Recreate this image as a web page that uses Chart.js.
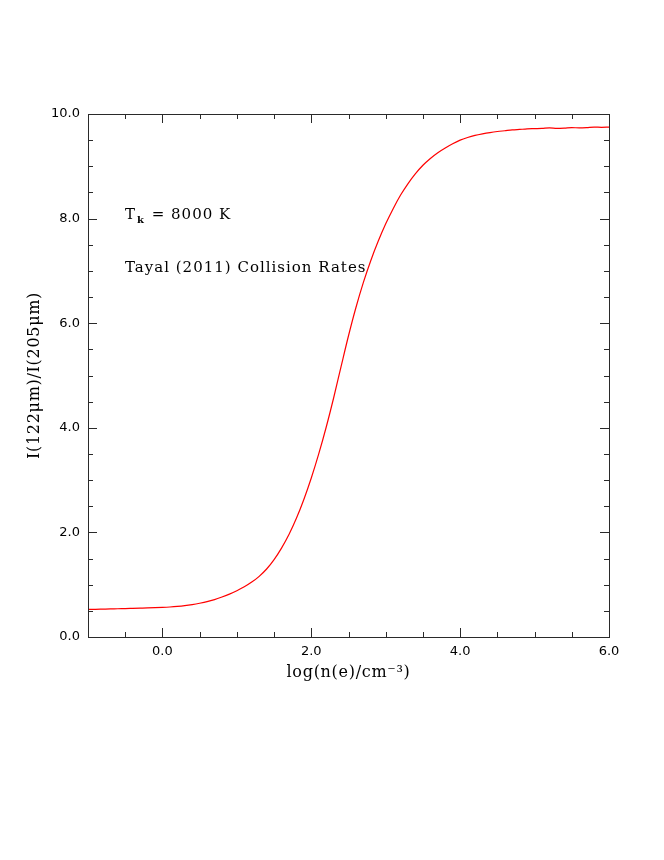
<!DOCTYPE html>
<html>
<head>
<meta charset="utf-8">
<script src="https://cdn.jsdelivr.net/npm/chart.js@4.4.1/dist/chart.umd.min.js"></script>
<style>
  html, body { margin: 0; padding: 0; background: #fff; }
  #wrap { width: 664px; height: 860px; position: relative; }
</style>
</head>
<body>
<div id="wrap"><canvas id="c" width="664" height="860"></canvas></div>
<script>
// ---- data ----
const logNe = [-1.0,-0.9,-0.8,-0.7,-0.6,-0.5,-0.4,-0.3,-0.2,-0.1,
  0.0,0.1,0.2,0.3,0.4,0.5,0.6,0.7,0.8,0.9,
  1.0,1.1,1.2,1.3,1.4,1.5,1.6,1.7,1.8,1.9,
  2.0,2.1,2.2,2.3,2.4,2.5,2.6,2.7,2.8,2.9,
  3.0,3.1,3.2,3.3,3.4,3.5,3.6,3.7,3.8,3.9,
  4.0,4.1,4.2,4.3,4.4,4.5,4.6,4.7,4.8,4.9,
  5.0,5.1,5.2,5.3,5.4,5.5,5.6,5.7,5.8,5.9,6.0];
const ratio = [0.53,0.53,0.533,0.536,0.54,0.543,0.547,0.551,0.555,0.56,
  0.566,0.574,0.585,0.60,0.62,0.645,0.675,0.715,0.765,0.82,
  0.885,0.96,1.05,1.16,1.30,1.48,1.70,1.96,2.27,2.63,
  3.04,3.50,4.01,4.57,5.17,5.76,6.30,6.78,7.20,7.57,
  7.90,8.19,8.45,8.67,8.86,9.02,9.15,9.26,9.35,9.43,
  9.50,9.55,9.59,9.62,9.645,9.665,9.68,9.695,9.705,9.715,
  9.72,9.725,9.735,9.725,9.73,9.74,9.735,9.74,9.75,9.745,9.75];
const xMajorLabels = [0, 2, 4, 6];
const yMajorLabels = [0, 2, 4, 6, 8, 10];
const xTitle = 'log(n(e)/cm\u207B\u00B3)';
const yTitle = 'I(122\u03BCm)/I(205\u03BCm)';
const noteTemp = ['T', 'k', ' = 8000 K'];
const noteRates = 'Tayal (2011) Collision Rates';

const AXIS_COLOR = '#2a2a2a';
const isMajor = (v, list) => list.some(m => Math.abs(m - v) < 1e-6);

const framePlugin = {
  id: 'frame',
  afterDraw(chart) {
    const ctx = chart.ctx;
    const a = chart.chartArea;
    const xs = chart.scales.x, ys = chart.scales.y;
    ctx.save();
    ctx.strokeStyle = AXIS_COLOR;
    ctx.lineWidth = 1;
    ctx.strokeRect(Math.round(a.left) + 0.5, Math.round(a.top) + 0.5,
                   Math.round(a.right - a.left), Math.round(a.bottom - a.top));
    ctx.beginPath();
    xs.ticks.forEach(t => {
      const px = Math.round(xs.getPixelForValue(t.value)) + 0.5;
      const len = isMajor(t.value, xMajorLabels) ? 9 : 5;
      ctx.moveTo(px, a.bottom); ctx.lineTo(px, a.bottom - len);
      ctx.moveTo(px, a.top); ctx.lineTo(px, a.top + len);
    });
    ys.ticks.forEach(t => {
      const py = Math.round(ys.getPixelForValue(t.value)) + 0.5;
      const len = isMajor(t.value, yMajorLabels) ? 9 : 5;
      ctx.moveTo(a.left, py); ctx.lineTo(a.left + len, py);
      ctx.moveTo(a.right, py); ctx.lineTo(a.right - len, py);
    });
    ctx.stroke();

    // axis titles
    ctx.fillStyle = '#000';
    ctx.font = '16px "DejaVu Serif"';
    ctx.letterSpacing = '0.7px';
    ctx.textAlign = 'center';
    ctx.textBaseline = 'alphabetic';
    ctx.fillText(xTitle, (a.left + a.right) / 2, 677);
    ctx.save();
    ctx.translate(39, (a.top + a.bottom) / 2);
    ctx.rotate(-Math.PI / 2);
    ctx.fillText(yTitle, 0, 0);
    ctx.restore();

    // annotations
    ctx.textAlign = 'left';
    ctx.letterSpacing = '1px';
    ctx.font = '15px "DejaVu Serif"';
    let x0 = 125;
    ctx.fillText(noteTemp[0], x0, 219);
    x0 += ctx.measureText(noteTemp[0]).width;
    ctx.font = 'bold 10px "DejaVu Serif"';
    ctx.fillText(noteTemp[1], x0 + 1, 223);
    x0 += ctx.measureText(noteTemp[1]).width + 1;
    ctx.font = '15px "DejaVu Serif"';
    ctx.fillText(noteTemp[2], x0 + 1, 219);
    ctx.fillText(noteRates, 125, 272);
    ctx.restore();
  }
};

new Chart(document.getElementById('c'), {
  type: 'line',
  data: {
    labels: logNe,
    datasets: [{
      data: logNe.map((x, i) => ({ x: x, y: ratio[i] })),
      borderColor: '#ff0000',
      borderWidth: 1.2,
      pointRadius: 0,
      fill: false,
      cubicInterpolationMode: 'monotone'
    }]
  },
  options: {
    responsive: false,
    animation: false,
    devicePixelRatio: 1,
    layout: { padding: { top: 114, right: 55, left: 0, bottom: 0 } },
    plugins: { legend: { display: false }, tooltip: { enabled: false } },
    scales: {
      x: {
        type: 'linear',
        min: -1, max: 6,
        grid: { drawOnChartArea: false, drawTicks: false },
        border: { display: false },
        afterFit(s) { s.height = 223; },
        ticks: {
          stepSize: 0.5,
          autoSkip: false,
          maxRotation: 0,
          padding: 7,
          color: '#000',
          font: { family: '"DejaVu Sans"', size: 13 },
          callback: v => isMajor(v, xMajorLabels) ? v.toFixed(1) : ''
        }
      },
      y: {
        type: 'linear',
        min: 0, max: 10,
        grid: { drawOnChartArea: false, drawTicks: false },
        border: { display: false },
        afterFit(s) { s.width = 88; },
        ticks: {
          stepSize: 0.5,
          autoSkip: false,
          padding: 8,
          color: '#000',
          font: { family: '"DejaVu Sans"', size: 13 },
          callback: v => isMajor(v, yMajorLabels) ? v.toFixed(1) : ''
        }
      }
    }
  },
  plugins: [framePlugin]
});
</script>
</body>
</html>
